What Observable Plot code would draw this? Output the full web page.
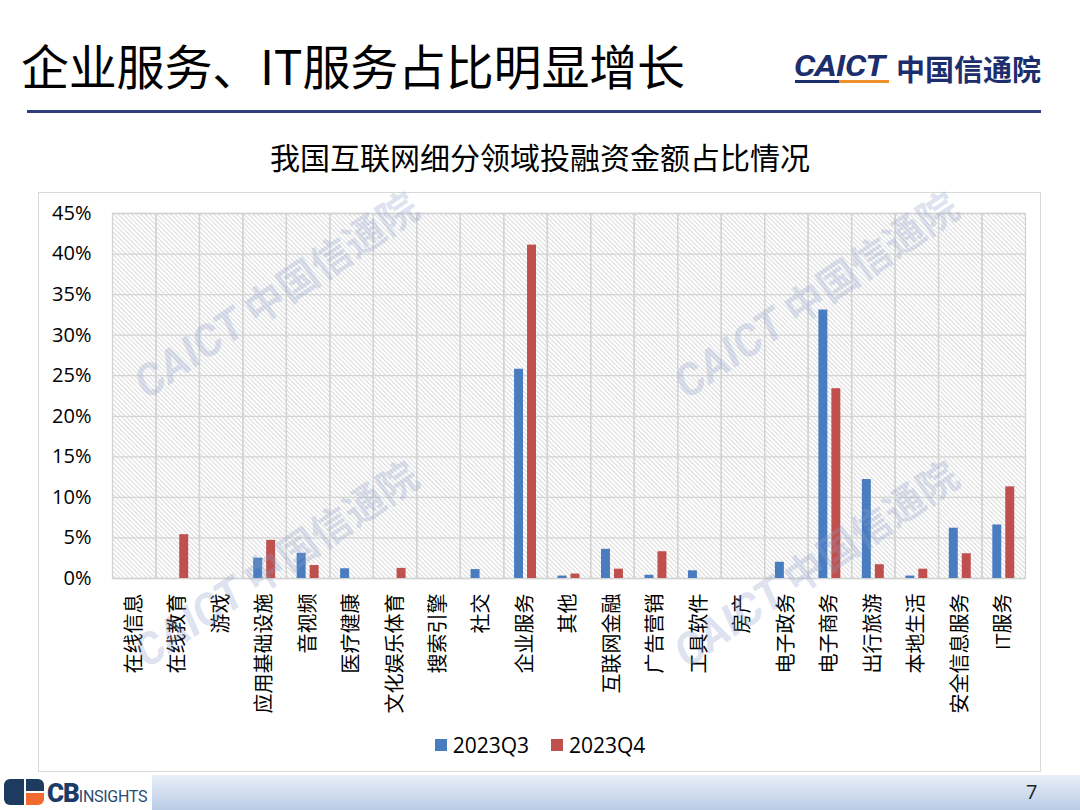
<!DOCTYPE html>
<html>
<head>
<meta charset="utf-8">
<script src="https://cdn.jsdelivr.net/npm/d3@7"></script>
<script src="https://cdn.jsdelivr.net/npm/@observablehq/plot@0.6"></script>
<style>
  html, body { margin: 0; padding: 0; background: #fff; }
  #page { position: relative; width: 1080px; height: 810px; overflow: hidden; background: #fff;
          font-family: "Noto Sans CJK SC", "Open Sans", sans-serif; }
  .abs { position: absolute; }
  #title { left: 21px; top: 40px; font-size: 48px; line-height: 48px; color: #000; white-space: nowrap; letter-spacing: -0.2px; }
  #caict { left: 794px; top: 51px; font-family: Roboto, "DejaVu Sans", sans-serif; font-weight: 700; font-style: italic;
           font-size: 30px; line-height: 30px; color: #1c2e6c; letter-spacing: -0.5px; transform-origin: left center; transform: scaleX(1.12); }
  #caictCn { left: 896px; top: 54px; font-size: 29px; line-height: 29px; font-weight: 700; color: #1c2e6c; white-space: nowrap; }
  #rule { left: 27px; top: 110px; width: 1014px; height: 3px; background: #2e3d7c; }
  #box { left: 38px; top: 192px; width: 1003px; height: 580px; border: 1px solid #d9d9d9; box-sizing: border-box; }
  #ctitle { left: 0; width: 1080px; top: 140px; text-align: center; font-size: 30px; line-height: 32px; color: #000; }
  #chart { left: 0; top: 192px; }
  #legend { left: 0; width: 1080px; top: 731px; display: flex; justify-content: center; align-items: center;
            font-family: "Open Sans", sans-serif; font-size: 21px; color: #000; gap: 8px; }
  #legend .sw { width: 12px; height: 12px; display: inline-block; }
  .wm { color: rgba(140, 158, 200, 0.3); font-size: 40px; white-space: nowrap; transform-origin: center center;
        pointer-events: none; font-weight: 700; }
  .wm b { font-family: Roboto, sans-serif; font-style: italic; font-weight: 700; font-size: 44px; }
  #footer { left: 152px; top: 775px; width: 928px; height: 35px;
            background: linear-gradient(to bottom, #e9eff8, #b9cce6); }
  #pnum { left: 1026px; top: 778px; font-family: "Open Sans", sans-serif; font-size: 20px; color: #222; }
  #cb { left: 47px; top: 778px; font-family: Roboto, sans-serif; color: #1d3b66; white-space: nowrap; }
</style>
</head>
<body>
<div id="page">
  <div id="title" class="abs">企业服务、IT服务占比明显增长</div>
  <div id="caict" class="abs">CAICT</div>
  <div class="abs" style="left:795px;top:80px;width:44px;height:3px;background:#1c2e6c"></div>
  <div class="abs" style="left:839px;top:80px;width:50px;height:3px;background:#f0902a"></div>
  <div id="caictCn" class="abs">中国信通院</div>
  <div id="rule" class="abs"></div>
  <div id="box" class="abs"></div>
  <div id="ctitle" class="abs">我国互联网细分领域投融资金额占比情况</div>
  <div id="chart" class="abs"></div>
  <div id="legend" class="abs"></div>
  <div id="footer" class="abs"></div>
  <div class="abs" style="left:4px;top:779px;width:20px;height:26px;background:#1d3b5e;border-radius:6px 0 0 6px"></div>
  <div class="abs" style="left:26px;top:779px;width:18px;height:12px;background:#1d3b5e;border-radius:0 6px 0 0"></div>
  <div class="abs" style="left:26px;top:793px;width:18px;height:12px;background:#f26a2d;border-radius:0 0 6px 0"></div>
  <div id="cb" class="abs"><span style="font-size:26px;font-weight:900;letter-spacing:-1px">CB</span><span style="font-size:16px;letter-spacing:-0.3px;color:#2c4a70">INSIGHTS</span></div>
  <div id="pnum" class="abs">7</div>
</div>
<script>
const categories = ["在线信息","在线教育","游戏","应用基础设施","音视频","医疗健康","文化娱乐体育","搜索引擎","社交","企业服务","其他","互联网金融","广告营销","工具软件","房产","电子政务","电子商务","出行旅游","本地生活","安全信息服务","IT服务"];
const q3Values = [0, 0, 0, 2.5, 3.1, 1.2, 0, 0, 1.1, 25.8, 0.3, 3.6, 0.4, 0.95, 0, 2.0, 33.1, 12.2, 0.3, 6.2, 6.6];
const q4Values = [0, 5.4, 0, 4.7, 1.6, 0, 1.25, 0, 0, 41.1, 0.55, 1.15, 3.3, 0, 0, 0, 23.4, 1.7, 1.15, 3.05, 11.3];
const seriesNames = ["2023Q3", "2023Q4"];
const seriesColors = ["#4a7dc0", "#c0504d"];
const yTicks = [0, 5, 10, 15, 20, 25, 30, 35, 40, 45];

const rows = categories.flatMap((c, i) => [
  {cat: c, s: seriesNames[0], v: q3Values[i]},
  {cat: c, s: seriesNames[1], v: q4Values[i]}
]);

const chart = Plot.plot({
  width: 1080,
  height: 535,
  marginTop: 21,
  marginLeft: 112,
  marginRight: 55,
  marginBottom: 149,
  style: {fontFamily: "'Open Sans','Noto Sans CJK SC',sans-serif", fontSize: "20px", color: "#000", background: "transparent", overflow: "visible"},
  fx: {domain: categories, padding: 0, round: false, label: null, tickRotate: -90, tickSize: 0, tickPadding: 15},
  x: {domain: seriesNames, paddingInner: 0.31, paddingOuter: 0.83, round: false, axis: null},
  y: {domain: [0, 45], label: null},
  color: {domain: seriesNames, range: seriesColors},
  marks: [
    Plot.frame({fill: "url(#hatch)"}),
    Plot.gridY(yTicks, {stroke: "#d3d3d3", strokeOpacity: 1, strokeWidth: 1.3}),
    Plot.frame({stroke: "#d3d3d3", strokeWidth: 1.3}),
    Plot.axisY(yTicks, {tickSize: 0, tickPadding: 21, tickFormat: d => d + "%", label: null, fontSize: 20}),
    Plot.barY(rows, {fx: "cat", x: "s", y: "v", fill: "s"})
  ]
});

const ns = "http://www.w3.org/2000/svg";
const defs = document.createElementNS(ns, "defs");
defs.innerHTML = '<pattern id="hatch" width="3.2" height="3.2" patternUnits="userSpaceOnUse" patternTransform="rotate(-45)">' +
  '<rect width="3.2" height="3.2" fill="#ffffff"/><line x1="0.5" y1="0" x2="0.5" y2="3.2" stroke="#d9d9d9" stroke-width="1"/></pattern>';
chart.prepend(defs);
document.getElementById("chart").appendChild(chart);

const legend = document.getElementById("legend");
seriesNames.forEach((name, i) => {
  const item = document.createElement("span");
  item.style.display = "inline-flex";
  item.style.alignItems = "center";
  item.style.gap = "6px";
  item.style.marginRight = i === 0 ? "14px" : "0";
  item.innerHTML = '<span class="sw" style="background:' + seriesColors[i] + '"></span><span>' + name + '</span>';
  legend.appendChild(item);
});

// watermarks
const page = document.getElementById("page");
[[275, 293], [815, 293], [275, 562], [815, 562]].forEach(([cx, cy]) => {
  const w = document.createElement("div");
  w.className = "abs wm";
  w.innerHTML = "<b>CAICT</b> 中国信通院";
  page.appendChild(w);
  const r = w.getBoundingClientRect();
  w.style.left = (cx - r.width / 2) + "px";
  w.style.top = (cy - r.height / 2) + "px";
  w.style.transform = "rotate(-34deg)";
});
</script>
</body>
</html>
